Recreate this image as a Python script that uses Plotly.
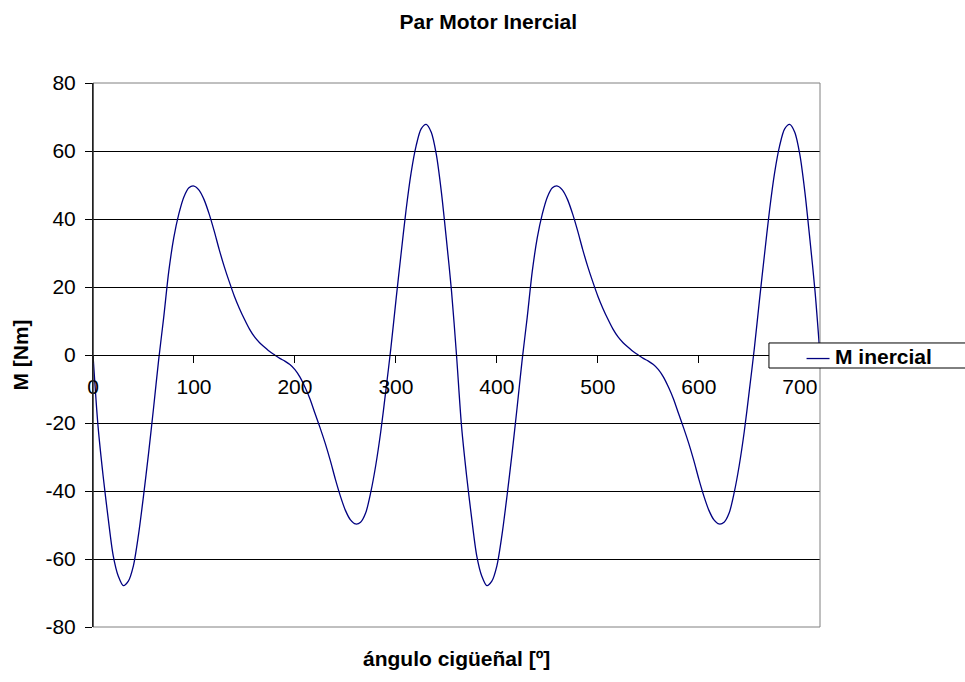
import plotly.graph_objects as go

# Crank angle [deg], sampled every 5 degrees over two revolutions
angulo = list(range(0, 721, 5))

# Inertial torque M [Nm] at each crank angle
m_inercial = [
    0, -21, -35.5, -48, -59, -65, -67.8, -66.5, -62, -53,
    -41.5, -29, -15.5, -1.5, 11, 24.5, 34.5, 41.5, 46.5, 49.2,
    49.7, 48.5, 45.7, 41.5, 36.5, 31, 26, 21.5, 17.3, 13.7,
    10.5, 7.6, 5.3, 3.6, 2.3, 1.0, 0, -1.0, -1.8, -2.8,
    -4.3, -6.5, -9.5, -13, -17.3, -21.5, -26, -31, -36.5, -41.5,
    -45.7, -48.5, -49.7, -49.2, -46.5, -40.5, -32.5, -22.5, -10.5, 2,
    16, 29.5, 42.5, 53.5, 61.5, 66.5, 67.8, 65.5, 59, 48,
    34, 19,
    0, -21, -35.5, -48, -59, -65, -67.8, -66.5, -62, -53,
    -41.5, -29, -15.5, -1.5, 11, 24.5, 34.5, 41.5, 46.5, 49.2,
    49.7, 48.5, 45.7, 41.5, 36.5, 31, 26, 21.5, 17.3, 13.7,
    10.5, 7.6, 5.3, 3.6, 2.3, 1.0, 0, -1.0, -1.8, -2.8,
    -4.3, -6.5, -9.5, -13, -17.3, -21.5, -26, -31, -36.5, -41.5,
    -45.7, -48.5, -49.7, -49.2, -46.5, -40.5, -32.5, -22.5, -10.5, 2,
    16, 29.5, 42.5, 53.5, 61.5, 66.5, 67.8, 65.5, 59, 48,
    34, 19, 0,
]

x_ticks = [0, 100, 200, 300, 400, 500, 600, 700]
y_ticks = [-80, -60, -40, -20, 0, 20, 40, 60, 80]

titulo = "Par Motor Inercial"
titulo_x = "ángulo cigüeñal [º]"
titulo_y = "M [Nm]"
serie = "M inercial"

FONT = "Liberation Sans, Arial, sans-serif"
LINE_COLOR = "#000080"

fig = go.Figure()
fig.add_trace(go.Scatter(
    x=angulo, y=m_inercial, mode="lines", name=serie,
    line=dict(color=LINE_COLOR, width=1.3, shape="spline", smoothing=0.8),
    showlegend=False, hoverinfo="x+y",
))

fig.update_layout(
    width=965, height=682,
    margin=dict(l=93, r=145, t=83, b=55),
    paper_bgcolor="white", plot_bgcolor="white",
    font=dict(family=FONT, size=21, color="black"),
    title=dict(text=f"<b>{titulo}</b>", x=0.506, xref="container",
               y=1 - 22 / 682, yref="container", yanchor="middle",
               xanchor="center", font=dict(size=21)),
    xaxis=dict(
        range=[0, 720], tickvals=x_ticks, ticktext=[str(v) for v in x_ticks],
        anchor="free", position=0.5,
        showline=True, linecolor="black", linewidth=1,
        ticks="outside", ticklen=7, tickcolor="black", tickwidth=1,
        showgrid=False, zeroline=False, tickfont=dict(size=21),
        ticklabelstandoff=6,
    ),
    yaxis=dict(
        range=[-80, 80], tickvals=y_ticks, ticktext=[str(v) for v in y_ticks],
        showline=True, linecolor="black", linewidth=1,
        ticks="outside", ticklen=7, tickcolor="black", tickwidth=1,
        showgrid=True, gridcolor="black", gridwidth=1, zeroline=False,
        ticklabelstandoff=5, tickfont=dict(size=21),
    ),
    showlegend=False,
)

# Plot area frame (grey), drawn over the outer gridlines
fig.add_shape(type="rect", xref="paper", yref="paper", x0=0, x1=1, y0=0, y1=1,
              line=dict(color="#808080", width=1), layer="above")
# Left axis line kept black on top of the frame
fig.add_shape(type="line", xref="paper", yref="paper", x0=0, x1=0, y0=0, y1=1,
              line=dict(color="black", width=1), layer="above")

# Axis titles
fig.add_annotation(text=f"<b>{titulo_x}</b>", xref="paper", yref="paper",
                   x=0.5, y=-0.058, xanchor="center", yanchor="middle",
                   showarrow=False, font=dict(size=21))
fig.add_annotation(text=f"<b>{titulo_y}</b>", xref="paper", yref="paper",
                   x=-0.101, y=0.5, xanchor="center", yanchor="middle",
                   textangle=-90, showarrow=False, font=dict(size=21))

# Legend box with line sample and series name
fig.add_shape(type="rect", xref="paper", yref="paper",
              x0=0.9298, x1=1.22, y0=0.4761, y1=0.5221,
              line=dict(color="black", width=1), fillcolor="white", layer="above")
fig.add_shape(type="line", xref="paper", yref="paper",
              x0=0.9815, x1=1.0131, y0=0.4935, y1=0.4935,
              line=dict(color=LINE_COLOR, width=1.3), layer="above")
fig.add_annotation(text=f"<b>{serie}</b>", xref="paper", yref="paper",
                   x=1.0179, y=0.497, xanchor="left", yanchor="middle",
                   showarrow=False, font=dict(size=21))

fig.write_html("out.html")
